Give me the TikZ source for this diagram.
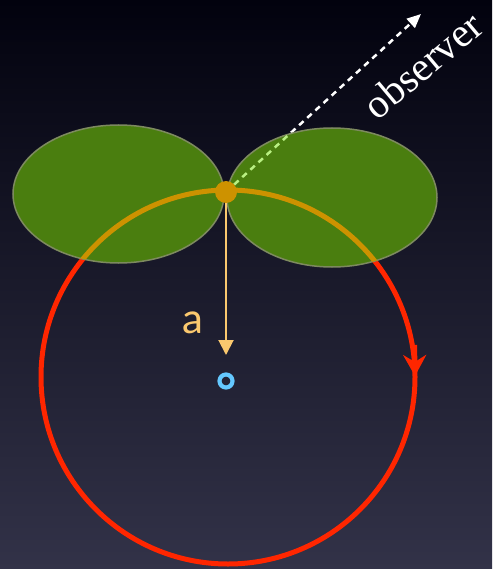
\documentclass[tikz,border=0pt]{standalone}
\usepackage{fontspec}
\setmainfont{Liberation Serif}
\newfontfamily\labelfont{Lato}
\usetikzlibrary{arrows.meta}
\definecolor{bgtop}{RGB}{2,2,14}
\definecolor{bgmid}{RGB}{22,22,44}
\definecolor{bgbot}{RGB}{50,50,72}
\definecolor{orbitred}{RGB}{255,38,0}
\definecolor{orbitgold}{RGB}{205,146,0}
\definecolor{lobegreen}{RGB}{74,126,15}
\definecolor{lobeedge}{RGB}{125,138,95}
\definecolor{aorange}{RGB}{250,200,110}
\definecolor{ringcyan}{RGB}{100,200,255}
\definecolor{dashgreen}{RGB}{185,240,130}
\tikzset{
  orbit/.style={draw=orbitred, line width=5pt},
  lobe/.style={fill=lobegreen, draw=lobeedge, line width=1.5pt},
  obsline/.style={white, line width=2.5pt, dash pattern=on 6pt off 5pt},
  aline/.style={draw=aorange, line width=2pt, -{Triangle[length=15pt,width=15pt]}},
  dotnode/.style={circle, fill=orbitgold, minimum size=22pt, inner sep=0pt},
  ringnode/.style={circle, draw=ringcyan, line width=4.2pt, minimum size=13pt, inner sep=0pt},
}
\begin{document}
\begin{tikzpicture}[x=1pt,y=-1pt]
\useasboundingbox (0,0) rectangle (492,569);
\shade[top color=bgtop, middle color=bgmid, bottom color=bgbot] (0,0) rectangle (492,569);
\coordinate (ctr) at (228,377);
\coordinate (pc) at (226,192);
\coordinate (obs) at (421,14);
\coordinate (atip) at (226,355);
% orbit
\draw[orbit] (ctr) circle [radius=187];
\draw[orbit, -{Stealth[length=21pt,width=23pt,inset=7pt]}] (414.6,345) -- (415,376);
% line to observer
\draw[obsline, -{Triangle[length=14pt,width=12pt]}] (pc) -- (obs);
% lobes
\fill[lobe] (118.5,194) ellipse [x radius=105.5, y radius=69];
\fill[lobe] (332,197.5) ellipse [x radius=105, y radius=69.5];
\begin{scope}
  \clip (118.5,194) ellipse [x radius=105.5, y radius=69] (332,197.5) ellipse [x radius=105, y radius=69.5];
  \draw[orbit, draw=orbitgold] (ctr) circle [radius=187];
  \draw[obsline, dashgreen] (pc) -- (obs);
\end{scope}
% radius arrow
\draw[aline] (pc) -- (atip);
\node[dotnode] (p) at (pc) {};
\node[ringnode] (o) at (226,381) {};
\node[text=aorange, font=\labelfont\fontsize{42}{42}\selectfont, anchor=base] (alabel) at (193,333) {a};
\node[text=white, font=\fontsize{41}{41}\selectfont, rotate=40] (obslabel) at (423,65) {observer};
\end{tikzpicture}
\end{document}
